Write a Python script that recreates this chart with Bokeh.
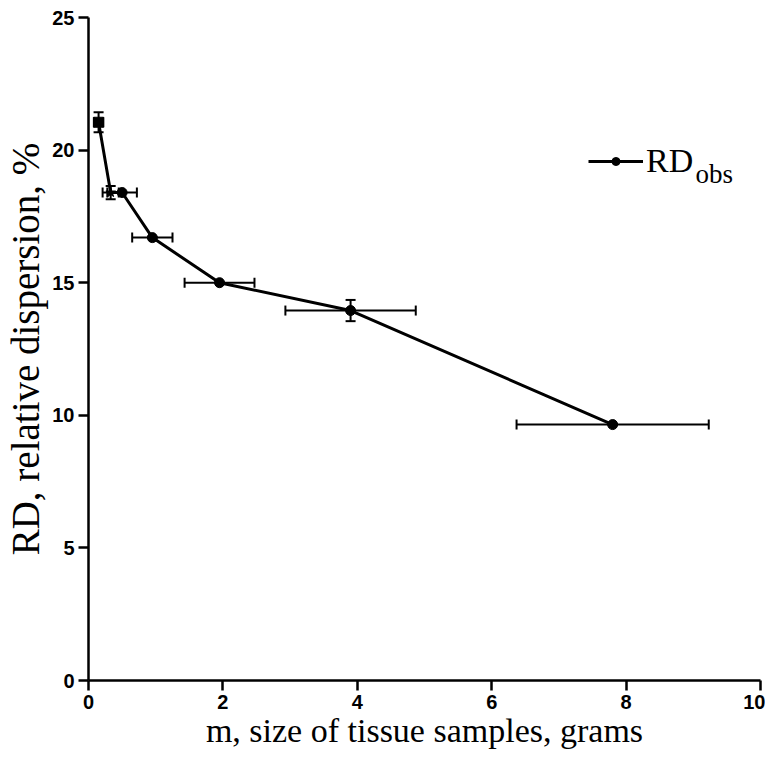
from bokeh.plotting import figure
from bokeh.models import ColumnDataSource, Whisker, TeeHead, Legend, LegendItem, Label, FixedTicker
from bokeh.embed import file_html
from bokeh.resources import INLINE

m = [0.15, 0.33, 0.5, 0.95, 1.95, 3.9, 7.8]
rd = [21.05, 18.4, 18.4, 16.7, 15.0, 13.95, 9.65]
m_err = [0.07, 0.12, 0.22, 0.3, 0.52, 0.97, 1.43]
rd_err = [0.38, 0.25, 0.0, 0.0, 0.0, 0.4, 0.0]
markers = ["square", "star", "circle", "circle", "circle", "circle", "circle"]
x_ticks = [0, 2, 4, 6, 8, 10]
y_ticks = [0, 5, 10, 15, 20, 25]

src = ColumnDataSource(dict(
    m=m, rd=rd, markers=markers,
    xl=[a - e for a, e in zip(m, m_err)], xu=[a + e for a, e in zip(m, m_err)],
    yl=[a - e for a, e in zip(rd, rd_err)], yu=[a + e for a, e in zip(rd, rd_err)],
))

p = figure(width=765, height=752, x_range=(0, 10), y_range=(0, 25),
           output_backend="svg", toolbar_location=None,
           min_border_left=88, min_border_right=5, min_border_top=17, min_border_bottom=72)
p.outline_line_color = None
p.grid.visible = False
p.background_fill_color = "white"

for ax in (p.xaxis[0], p.yaxis[0]):
    ax.axis_line_width = 2.5
    ax.major_tick_line_width = 2.5
    ax.major_tick_out = 10
    ax.major_tick_in = 0
    ax.minor_tick_line_color = None
    ax.major_label_text_font = "Liberation Sans"
    ax.major_label_text_font_style = "bold"
    ax.major_label_text_font_size = "20px"
    ax.major_label_text_color = "black"
    ax.axis_label_text_font = "Liberation Serif"
    ax.axis_label_text_font_style = "normal"
    ax.axis_label_text_color = "black"
p.xaxis.ticker = FixedTicker(ticks=x_ticks)
p.yaxis.ticker = FixedTicker(ticks=y_ticks)
p.xaxis.axis_label = "m, size of tissue samples, grams"
p.yaxis.axis_label = "RD, relative dispersion, %"
p.xaxis.axis_label_text_font_size = "34px"
p.yaxis.axis_label_text_font_size = "39px"
p.xaxis.major_label_standoff = 4
p.yaxis.major_label_standoff = 4
p.xaxis.axis_label_standoff = 0
p.yaxis.axis_label_standoff = 2

xw = Whisker(source=src, base="rd", lower="xl", upper="xu", dimension="width",
             line_width=2, line_color="black",
             lower_head=TeeHead(size=10, line_width=2), upper_head=TeeHead(size=10, line_width=2))
yw = Whisker(source=src, base="m", lower="yl", upper="yu", dimension="height",
             line_width=2, line_color="black",
             lower_head=TeeHead(size=10, line_width=2), upper_head=TeeHead(size=10, line_width=2))
p.add_layout(xw)
p.add_layout(yw)

ln = p.line("m", "rd", source=src, line_width=3, line_color="black")
sc = p.scatter("m", "rd", source=src, marker="markers", size=10, fill_color="black", line_color="black")

legend = Legend(items=[LegendItem(label="RD", renderers=[ln, sc], index=6)],
                location=(500, 500), border_line_color=None, background_fill_alpha=0,
                padding=0, margin=0, glyph_width=55, glyph_height=20, label_standoff=3,
                label_text_font="Liberation Serif", label_text_font_size="34px",
                label_text_color="black", label_height=20)
p.add_layout(legend, "center")
p.add_layout(Label(x=607, y=507, x_units="screen", y_units="screen", text="obs",
                   text_baseline="alphabetic",
                   text_font="Liberation Serif", text_font_size="27px", text_color="black"))

open("out.html", "w").write(file_html(p, INLINE))
